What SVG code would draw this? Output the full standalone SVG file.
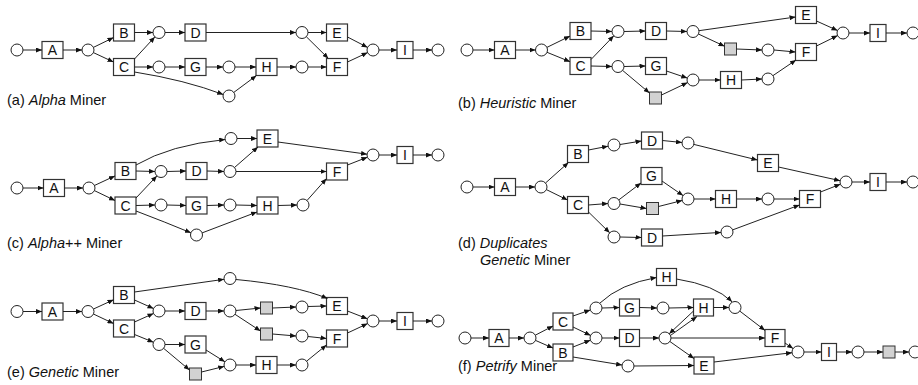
<svg xmlns="http://www.w3.org/2000/svg" width="918" height="385" viewBox="0 0 918 385">
<defs>
<marker id="ar" markerWidth="6" markerHeight="5" refX="6" refY="2.5" orient="auto" markerUnits="userSpaceOnUse"><path d="M0,0 L6,2.5 L0,5 z" fill="#111"/></marker>
<style>
.pl{fill:#fff;stroke:#222;stroke-width:1}
.tr{fill:#fff;stroke:#333;stroke-width:1.2}
.sl{fill:#d2d2d2;stroke:#333;stroke-width:1}
.t{font-family:"Liberation Sans",Arial,sans-serif;font-size:14px;text-anchor:middle;fill:#111}
.e{fill:none;stroke:#222;stroke-width:1;marker-end:url(#ar)}
.cap{font-family:"Liberation Sans",Arial,sans-serif;font-size:14.5px;fill:#111}
</style>
</defs>
<rect width="918" height="385" fill="#fff"/>

<!-- Panel a -->
<g id="a-nodes">
<g id="a-p0"><circle class="pl" cx="17" cy="50" r="6"/></g>
<g id="a-A"><rect class="tr" x="42" y="41.5" width="21" height="17"/><text class="t" x="52.5" y="55">A</text></g>
<g id="a-p1"><circle class="pl" cx="88" cy="50" r="6"/></g>
<g id="a-B"><rect class="tr" x="113.5" y="24" width="21" height="17"/><text class="t" x="124" y="37.5">B</text></g>
<g id="a-C"><rect class="tr" x="113.5" y="58.5" width="21" height="17"/><text class="t" x="124" y="72">C</text></g>
<g id="a-p2"><circle class="pl" cx="159" cy="32.5" r="6"/></g>
<g id="a-D"><rect class="tr" x="185" y="24" width="21" height="17"/><text class="t" x="195.5" y="37.5">D</text></g>
<g id="a-p3"><circle class="pl" cx="159" cy="67" r="6"/></g>
<g id="a-G"><rect class="tr" x="185" y="58.5" width="21" height="17"/><text class="t" x="195.5" y="72">G</text></g>
<g id="a-p4"><circle class="pl" cx="229" cy="67" r="6"/></g>
<g id="a-H"><rect class="tr" x="256" y="58.5" width="21" height="17"/><text class="t" x="266.5" y="72">H</text></g>
<g id="a-p5"><circle class="pl" cx="229" cy="96" r="6"/></g>
<g id="a-p6"><circle class="pl" cx="302" cy="32.5" r="6"/></g>
<g id="a-p7"><circle class="pl" cx="302" cy="67" r="6"/></g>
<g id="a-E"><rect class="tr" x="326.5" y="24" width="21" height="17"/><text class="t" x="337" y="37.5">E</text></g>
<g id="a-F"><rect class="tr" x="326.5" y="58.5" width="21" height="17"/><text class="t" x="337" y="72">F</text></g>
<g id="a-p8"><circle class="pl" cx="373" cy="50" r="6"/></g>
<g id="a-I"><rect class="tr" x="397" y="41.5" width="16" height="17"/><text class="t" x="405" y="55">I</text></g>
<g id="a-p9"><circle class="pl" cx="438" cy="50" r="6"/></g>
</g>
<text class="cap" x="7" y="105">(a) <tspan font-style="italic">Alpha</tspan> Miner</text>

<!-- Panel b -->
<g id="b-nodes">
<g id="b-p0"><circle class="pl" cx="467" cy="50" r="6"/></g>
<g id="b-A"><rect class="tr" x="494.5" y="41.5" width="21" height="17"/><text class="t" x="505" y="55">A</text></g>
<g id="b-p1"><circle class="pl" cx="541.5" cy="50" r="6"/></g>
<g id="b-B"><rect class="tr" x="570" y="22.5" width="21" height="17"/><text class="t" x="580.5" y="36">B</text></g>
<g id="b-C"><rect class="tr" x="570" y="57.5" width="21" height="17"/><text class="t" x="580.5" y="71">C</text></g>
<g id="b-p2"><circle class="pl" cx="618" cy="31.5" r="6"/></g>
<g id="b-D"><rect class="tr" x="645.5" y="22.5" width="21" height="17"/><text class="t" x="656" y="36">D</text></g>
<g id="b-p3"><circle class="pl" cx="693" cy="31.5" r="6"/></g>
<g id="b-E"><rect class="tr" x="795.5" y="6.5" width="21" height="17"/><text class="t" x="806" y="20">E</text></g>
<g id="b-s1"><rect class="sl" x="724.5" y="43" width="12" height="12"/></g>
<g id="b-p4"><circle class="pl" cx="768" cy="50" r="6"/></g>
<g id="b-F"><rect class="tr" x="795.5" y="43.5" width="21" height="17"/><text class="t" x="806" y="57">F</text></g>
<g id="b-p5"><circle class="pl" cx="843" cy="33" r="6"/></g>
<g id="b-I"><rect class="tr" x="870" y="24.5" width="16" height="17"/><text class="t" x="878" y="38">I</text></g>
<g id="b-p6"><circle class="pl" cx="913" cy="33" r="6"/></g>
<g id="b-p7"><circle class="pl" cx="618" cy="66.5" r="6"/></g>
<g id="b-G"><rect class="tr" x="645.5" y="57.5" width="21" height="17"/><text class="t" x="656" y="71">G</text></g>
<g id="b-s2"><rect class="sl" x="649.5" y="92" width="12" height="12"/></g>
<g id="b-p8"><circle class="pl" cx="693" cy="80" r="6"/></g>
<g id="b-H"><rect class="tr" x="720.5" y="71.5" width="21" height="17"/><text class="t" x="731" y="85">H</text></g>
<g id="b-p9"><circle class="pl" cx="768" cy="79" r="6"/></g>
</g>
<text class="cap" x="458" y="107.5">(b) <tspan font-style="italic">Heuristic</tspan> Miner</text>

<!-- Panel c -->
<g id="c-nodes">
<g id="c-p0"><circle class="pl" cx="17" cy="188" r="6"/></g>
<g id="c-A"><rect class="tr" x="43.5" y="179.5" width="21" height="17"/><text class="t" x="54" y="193">A</text></g>
<g id="c-p1"><circle class="pl" cx="89" cy="188" r="6"/></g>
<g id="c-B"><rect class="tr" x="115" y="162.5" width="21" height="17"/><text class="t" x="125.5" y="176">B</text></g>
<g id="c-C"><rect class="tr" x="115" y="197" width="21" height="17"/><text class="t" x="125.5" y="210.5">C</text></g>
<g id="c-p2"><circle class="pl" cx="161" cy="171.5" r="6"/></g>
<g id="c-D"><rect class="tr" x="186" y="162.5" width="21" height="17"/><text class="t" x="196.5" y="176">D</text></g>
<g id="c-p3"><circle class="pl" cx="230" cy="171.5" r="6"/></g>
<g id="c-p4"><circle class="pl" cx="231" cy="138.5" r="6"/></g>
<g id="c-E"><rect class="tr" x="257" y="130" width="21" height="17"/><text class="t" x="267.5" y="143.5">E</text></g>
<g id="c-p5"><circle class="pl" cx="373" cy="155" r="6"/></g>
<g id="c-I"><rect class="tr" x="397" y="146.5" width="16" height="17"/><text class="t" x="405" y="160">I</text></g>
<g id="c-p6"><circle class="pl" cx="438" cy="155" r="6"/></g>
<g id="c-F"><rect class="tr" x="326.5" y="163" width="21" height="17"/><text class="t" x="337" y="176.5">F</text></g>
<g id="c-p7"><circle class="pl" cx="161" cy="205" r="6"/></g>
<g id="c-G"><rect class="tr" x="186" y="197" width="21" height="17"/><text class="t" x="196.5" y="210.5">G</text></g>
<g id="c-p8"><circle class="pl" cx="230" cy="205" r="6"/></g>
<g id="c-H"><rect class="tr" x="257" y="197" width="21" height="17"/><text class="t" x="267.5" y="210.5">H</text></g>
<g id="c-p9"><circle class="pl" cx="303" cy="205" r="6"/></g>
<g id="c-p10"><circle class="pl" cx="196.5" cy="235" r="6"/></g>
</g>
<text class="cap" x="7" y="247.5">(c) <tspan font-style="italic">Alpha</tspan>++ Miner</text>

<!-- Panel d -->
<g id="d-nodes">
<g id="d-p0"><circle class="pl" cx="467" cy="187" r="6"/></g>
<g id="d-A"><rect class="tr" x="494.5" y="178.5" width="21" height="17"/><text class="t" x="505" y="192">A</text></g>
<g id="d-p1"><circle class="pl" cx="541" cy="187" r="6"/></g>
<g id="d-B"><rect class="tr" x="567.5" y="145.5" width="21" height="17"/><text class="t" x="578" y="159">B</text></g>
<g id="d-C"><rect class="tr" x="567.5" y="196.5" width="21" height="17"/><text class="t" x="578" y="210">C</text></g>
<g id="d-p2"><circle class="pl" cx="614" cy="145" r="6"/></g>
<g id="d-D1"><rect class="tr" x="641.5" y="132" width="21" height="17"/><text class="t" x="652" y="145.5">D</text></g>
<g id="d-p3"><circle class="pl" cx="688" cy="143" r="6"/></g>
<g id="d-E"><rect class="tr" x="757.5" y="154.5" width="21" height="17"/><text class="t" x="768" y="168">E</text></g>
<g id="d-p4"><circle class="pl" cx="846" cy="182" r="6"/></g>
<g id="d-I"><rect class="tr" x="870" y="173.5" width="16" height="17"/><text class="t" x="878" y="187">I</text></g>
<g id="d-p5"><circle class="pl" cx="913" cy="182" r="6"/></g>
<g id="d-G"><rect class="tr" x="641" y="167.5" width="21" height="17"/><text class="t" x="651.5" y="181">G</text></g>
<g id="d-p6"><circle class="pl" cx="614" cy="203.5" r="6"/></g>
<g id="d-s1"><rect class="sl" x="646.5" y="202.5" width="12" height="12"/></g>
<g id="d-p7"><circle class="pl" cx="688" cy="199" r="6"/></g>
<g id="d-H"><rect class="tr" x="715.5" y="190.5" width="21" height="17"/><text class="t" x="726" y="204">H</text></g>
<g id="d-p8"><circle class="pl" cx="768" cy="199" r="6"/></g>
<g id="d-F"><rect class="tr" x="799.5" y="190.5" width="21" height="17"/><text class="t" x="810" y="204">F</text></g>
<g id="d-p9"><circle class="pl" cx="614" cy="237" r="6"/></g>
<g id="d-D2"><rect class="tr" x="641.5" y="229" width="21" height="17"/><text class="t" x="652" y="242.5">D</text></g>
<g id="d-p10"><circle class="pl" cx="727" cy="232" r="6"/></g>
</g>
<text class="cap" x="458" y="248">(d) <tspan font-style="italic">Duplicates</tspan></text>
<text class="cap" x="480" y="265"><tspan font-style="italic">Genetic</tspan> Miner</text>

<!-- Panel e -->
<g id="e-nodes">
<g id="e-p0"><circle class="pl" cx="17" cy="311.5" r="6"/></g>
<g id="e-A"><rect class="tr" x="42" y="303" width="21" height="17"/><text class="t" x="52.5" y="316.5">A</text></g>
<g id="e-p1"><circle class="pl" cx="88" cy="311.5" r="6"/></g>
<g id="e-B"><rect class="tr" x="113.5" y="286.5" width="21" height="17"/><text class="t" x="124" y="300">B</text></g>
<g id="e-C"><rect class="tr" x="113.5" y="320" width="21" height="17"/><text class="t" x="124" y="333.5">C</text></g>
<g id="e-p2"><circle class="pl" cx="159" cy="311" r="6"/></g>
<g id="e-D"><rect class="tr" x="185" y="302.5" width="21" height="17"/><text class="t" x="195.5" y="316">D</text></g>
<g id="e-p3"><circle class="pl" cx="230" cy="311" r="6"/></g>
<g id="e-s1"><rect class="sl" x="260.5" y="302" width="12" height="12"/></g>
<g id="e-p4"><circle class="pl" cx="302" cy="307" r="6"/></g>
<g id="e-E"><rect class="tr" x="326.5" y="297.5" width="21" height="17"/><text class="t" x="337" y="311">E</text></g>
<g id="e-s2"><rect class="sl" x="260.5" y="328" width="12" height="12"/></g>
<g id="e-p5"><circle class="pl" cx="302" cy="336" r="6"/></g>
<g id="e-F"><rect class="tr" x="326.5" y="330" width="21" height="17"/><text class="t" x="337" y="343.5">F</text></g>
<g id="e-p6"><circle class="pl" cx="373" cy="321" r="6"/></g>
<g id="e-I"><rect class="tr" x="397" y="312.5" width="16" height="17"/><text class="t" x="405" y="326">I</text></g>
<g id="e-p7"><circle class="pl" cx="438" cy="321" r="6"/></g>
<g id="e-p8"><circle class="pl" cx="230" cy="278.5" r="6"/></g>
<g id="e-p9"><circle class="pl" cx="159" cy="344.5" r="6"/></g>
<g id="e-G"><rect class="tr" x="185" y="336" width="21" height="17"/><text class="t" x="195.5" y="349.5">G</text></g>
<g id="e-s3"><rect class="sl" x="189.5" y="368" width="12" height="12"/></g>
<g id="e-p10"><circle class="pl" cx="230" cy="365" r="6"/></g>
<g id="e-H"><rect class="tr" x="256" y="356.5" width="21" height="17"/><text class="t" x="266.5" y="370">H</text></g>
<g id="e-p11"><circle class="pl" cx="302" cy="365" r="6"/></g>
</g>
<text class="cap" x="7" y="377">(e) <tspan font-style="italic">Genetic</tspan> Miner</text>

<!-- Panel f -->
<g id="f-nodes">
<g id="f-p0"><circle class="pl" cx="465" cy="338" r="6"/></g>
<g id="f-A"><rect class="tr" x="489" y="329.5" width="20" height="17"/><text class="t" x="499" y="343">A</text></g>
<g id="f-p1"><circle class="pl" cx="530" cy="338" r="6"/></g>
<g id="f-C"><rect class="tr" x="553" y="313" width="20" height="17"/><text class="t" x="563" y="326.5">C</text></g>
<g id="f-B"><rect class="tr" x="553" y="344" width="20" height="17"/><text class="t" x="563" y="357.5">B</text></g>
<g id="f-p2"><circle class="pl" cx="596" cy="308" r="6"/></g>
<g id="f-p3"><circle class="pl" cx="596" cy="338" r="6"/></g>
<g id="f-G"><rect class="tr" x="619.5" y="299" width="20" height="17"/><text class="t" x="629.5" y="312.5">G</text></g>
<g id="f-D"><rect class="tr" x="619.5" y="329.5" width="20" height="17"/><text class="t" x="629.5" y="343">D</text></g>
<g id="f-p4"><circle class="pl" cx="663" cy="308" r="6"/></g>
<g id="f-H2"><rect class="tr" x="693.5" y="299" width="20" height="17"/><text class="t" x="703.5" y="312.5">H</text></g>
<g id="f-p5"><circle class="pl" cx="665" cy="338" r="6"/></g>
<g id="f-H1"><rect class="tr" x="656.5" y="268.5" width="20" height="17"/><text class="t" x="666.5" y="282">H</text></g>
<g id="f-p6"><circle class="pl" cx="735" cy="307.5" r="6"/></g>
<g id="f-F"><rect class="tr" x="765" y="329.5" width="20" height="17"/><text class="t" x="775" y="343">F</text></g>
<g id="f-p7"><circle class="pl" cx="798" cy="352" r="6"/></g>
<g id="f-I"><rect class="tr" x="821.5" y="343.5" width="15" height="17"/><text class="t" x="829" y="357">I</text></g>
<g id="f-p8"><circle class="pl" cx="858" cy="352" r="6"/></g>
<g id="f-s1"><rect class="sl" x="883" y="346" width="12" height="12"/></g>
<g id="f-p9"><circle class="pl" cx="915" cy="352" r="6"/></g>
<g id="f-E"><rect class="tr" x="694" y="357" width="20" height="17"/><text class="t" x="704" y="370.5">E</text></g>
<g id="f-p10"><circle class="pl" cx="628" cy="366" r="6"/></g>
</g>
<text class="cap" x="458" y="371">(f) <tspan font-style="italic">Petrify</tspan> Miner</text>

<g id="connectors">
<!-- a -->
<path class="e" d="M23,50 L42,50"/>
<path class="e" d="M63,50 L82,50"/>
<path class="e" d="M93.4,47.4 L113.5,37.6"/>
<path class="e" d="M93.4,52.6 L113.5,62"/>
<path class="e" d="M134.5,32.5 L153,32.5"/>
<path class="e" d="M134.5,59 L154.9,36.9"/>
<path class="e" d="M165,32.5 L185,32.5"/>
<path class="e" d="M206,32.5 L296,32.5"/>
<path class="e" d="M134.5,67 L153,67"/>
<path class="e" d="M165,67 L185,67"/>
<path class="e" d="M206,67 L223,67"/>
<path class="e" d="M235,67 L256,67"/>
<path class="e" d="M134.5,72 Q185,80 223.2,94.5"/>
<path class="e" d="M233.8,92.4 L256.5,75.5"/>
<path class="e" d="M277,67 L296,67"/>
<path class="e" d="M308,32.5 L326.5,32.5"/>
<path class="e" d="M306.3,36.7 L328.4,58.5"/>
<path class="e" d="M308,67 L326.5,67"/>
<path class="e" d="M347.5,37 L367.6,47.4"/>
<path class="e" d="M347.5,62 L367.6,52.6"/>
<path class="e" d="M379,50 L397,50"/>
<path class="e" d="M413,50 L432,50"/>
<!-- b -->
<path class="e" d="M473,50 L494.5,50"/>
<path class="e" d="M515.5,50 L535.5,50"/>
<path class="e" d="M546.9,47.4 L570,36.1"/>
<path class="e" d="M547,52.3 L570,61.7"/>
<path class="e" d="M591,31 L612,31.5"/>
<path class="e" d="M591,59.5 L613.8,35.8"/>
<path class="e" d="M624,31.5 L645.5,31"/>
<path class="e" d="M666.5,31 L687,31.5"/>
<path class="e" d="M698.9,30.7 L795.5,17"/>
<path class="e" d="M698.4,34 L724.5,46.2"/>
<path class="e" d="M736.5,49 L762,50"/>
<path class="e" d="M774,50 L795.5,52"/>
<path class="e" d="M816.5,21 L837.5,30.5"/>
<path class="e" d="M816.5,46 L837.6,35.6"/>
<path class="e" d="M849,33 L870,33"/>
<path class="e" d="M886,33 L907,33"/>
<path class="e" d="M591,66 L612,66.5"/>
<path class="e" d="M624,66.5 L645.5,66"/>
<path class="e" d="M622.6,70.4 L649.5,93"/>
<path class="e" d="M666.5,71 L687.3,78.1"/>
<path class="e" d="M661.5,95 L687.6,82.6"/>
<path class="e" d="M699,80 L720.5,80"/>
<path class="e" d="M741.5,80 L762,79"/>
<path class="e" d="M773,75.6 L796,60"/>
<!-- c -->
<path class="e" d="M23,188 L43.5,188"/>
<path class="e" d="M64.5,188 L83,188"/>
<path class="e" d="M94.4,185.5 L115,175.9"/>
<path class="e" d="M94.4,190.6 L115,200.5"/>
<path class="e" d="M136,165 Q170,145 225.2,139.5"/>
<path class="e" d="M136,171 L155,171.5"/>
<path class="e" d="M136,198 L156.9,175.9"/>
<path class="e" d="M167,171.5 L186,171"/>
<path class="e" d="M207,171 L224,171.5"/>
<path class="e" d="M234.5,167.5 L258,147"/>
<path class="e" d="M236,171.5 L326.5,171.5"/>
<path class="e" d="M237,138.5 L257,138.5"/>
<path class="e" d="M278,142 L367.1,154.2"/>
<path class="e" d="M347.5,165 L367.4,157.2"/>
<path class="e" d="M379,155 L397,155"/>
<path class="e" d="M413,155 L432,155"/>
<path class="e" d="M136,205.5 L155,205"/>
<path class="e" d="M167,205 L186,205.5"/>
<path class="e" d="M207,205.5 L224,205"/>
<path class="e" d="M236,205 L257,205.5"/>
<path class="e" d="M136,211 Q165,222 190.9,232.8"/>
<path class="e" d="M202.1,232.9 L257,212"/>
<path class="e" d="M278,205.5 L297,205"/>
<path class="e" d="M307,200.5 L326.5,178.6"/>
<!-- d -->
<path class="e" d="M473,187 L494.5,187"/>
<path class="e" d="M515.5,187 L535,187"/>
<path class="e" d="M545.5,183 L568.5,162.5"/>
<path class="e" d="M546.4,189.6 L567.5,200"/>
<path class="e" d="M588.5,150 L608.1,146.2"/>
<path class="e" d="M620,144.5 L641.5,141"/>
<path class="e" d="M662.5,140.5 L682,142.5"/>
<path class="e" d="M693.8,144.4 L757.5,160"/>
<path class="e" d="M778.5,167 L840.1,180.7"/>
<path class="e" d="M852,182 L870,182"/>
<path class="e" d="M886,182 L907,182"/>
<path class="e" d="M588.5,205 L608,203.5"/>
<path class="e" d="M618.8,199.9 L641,183"/>
<path class="e" d="M620,204 L646.5,208.5"/>
<path class="e" d="M662,181 L683.1,195.6"/>
<path class="e" d="M658.5,206.5 L682.2,200.5"/>
<path class="e" d="M694,199 L715.5,199"/>
<path class="e" d="M736.5,199 L762,199"/>
<path class="e" d="M774,199 L799.5,199"/>
<path class="e" d="M820.5,192 L840.4,184.2"/>
<path class="e" d="M588.5,212 L609.7,232.8"/>
<path class="e" d="M620,237 L641.5,237.5"/>
<path class="e" d="M662.5,236 L721,232.4"/>
<path class="e" d="M732.6,229.9 L799.5,205"/>
<!-- e -->
<path class="e" d="M23,311.5 L42,311.5"/>
<path class="e" d="M63,311.5 L82,311.5"/>
<path class="e" d="M93.5,309 L113.5,299.8"/>
<path class="e" d="M93.4,314 L113.5,323.5"/>
<path class="e" d="M134.5,292 L224.1,279.3"/>
<path class="e" d="M134.5,300 L153.5,308.5"/>
<path class="e" d="M134.5,322 L153.5,313.5"/>
<path class="e" d="M165,311 L185,311"/>
<path class="e" d="M206,311 L224,311"/>
<path class="e" d="M236,310.5 L260.5,308"/>
<path class="e" d="M272.5,308 L296,307"/>
<path class="e" d="M308,306.5 L326.5,306"/>
<path class="e" d="M235,314.3 L260.5,331"/>
<path class="e" d="M272.5,334 L296,336"/>
<path class="e" d="M308,336.5 L326.5,338.5"/>
<path class="e" d="M236,279.5 Q295,285 327.5,298.5"/>
<path class="e" d="M347.5,311 L367.4,318.8"/>
<path class="e" d="M347.5,333 L367.6,323.6"/>
<path class="e" d="M379,321 L397,321"/>
<path class="e" d="M413,321 L432,321"/>
<path class="e" d="M134.5,334.5 L153.4,342.2"/>
<path class="e" d="M165,344.5 L185,344.5"/>
<path class="e" d="M163.6,348.3 L189.5,370"/>
<path class="e" d="M206,350 L224.9,361.8"/>
<path class="e" d="M201.5,372 L224.2,366.4"/>
<path class="e" d="M236,365 L256,365"/>
<path class="e" d="M277,365 L296,365"/>
<path class="e" d="M306.6,361.2 L326.5,345"/>
<!-- f -->
<path class="e" d="M471,338 L489,338"/>
<path class="e" d="M509,338 L524,338"/>
<path class="e" d="M535.3,335.2 L553,326"/>
<path class="e" d="M535.5,340.4 L553,348.1"/>
<path class="e" d="M573,316 L590.3,310"/>
<path class="e" d="M573,327 L590.6,335.4"/>
<path class="e" d="M573,347 L590.4,340.2"/>
<path class="e" d="M573,357 L622.1,365"/>
<path class="e" d="M600,303 Q620,284 656.5,277.5"/>
<path class="e" d="M602,308 L619.5,307.5"/>
<path class="e" d="M639.5,307.5 L657,308"/>
<path class="e" d="M669,308 L693.5,307.5"/>
<path class="e" d="M602,338 L619.5,338"/>
<path class="e" d="M639.5,338 L659,338"/>
<path class="e" d="M670.4,335.5 L697,316.5"/>
<path class="e" d="M693.5,311 L669.2,333.8"/>
<path class="e" d="M713.5,307.5 L729,307.5"/>
<path class="e" d="M676.5,279 Q715,285 732,301.8"/>
<path class="e" d="M739.8,311.1 L765,330.4"/>
<path class="e" d="M671,338 L765,338"/>
<path class="e" d="M669.9,341.5 L694,358.5"/>
<path class="e" d="M634,366 L694,365.5"/>
<path class="e" d="M785,343 L793.1,348.6"/>
<path class="e" d="M714,362 L792,352.7"/>
<path class="e" d="M804,352 L821.5,352"/>
<path class="e" d="M836.5,352 L852,352"/>
<path class="e" d="M864,352 L883,352"/>
<path class="e" d="M895,352 L909,352"/>
</g>
</svg>
